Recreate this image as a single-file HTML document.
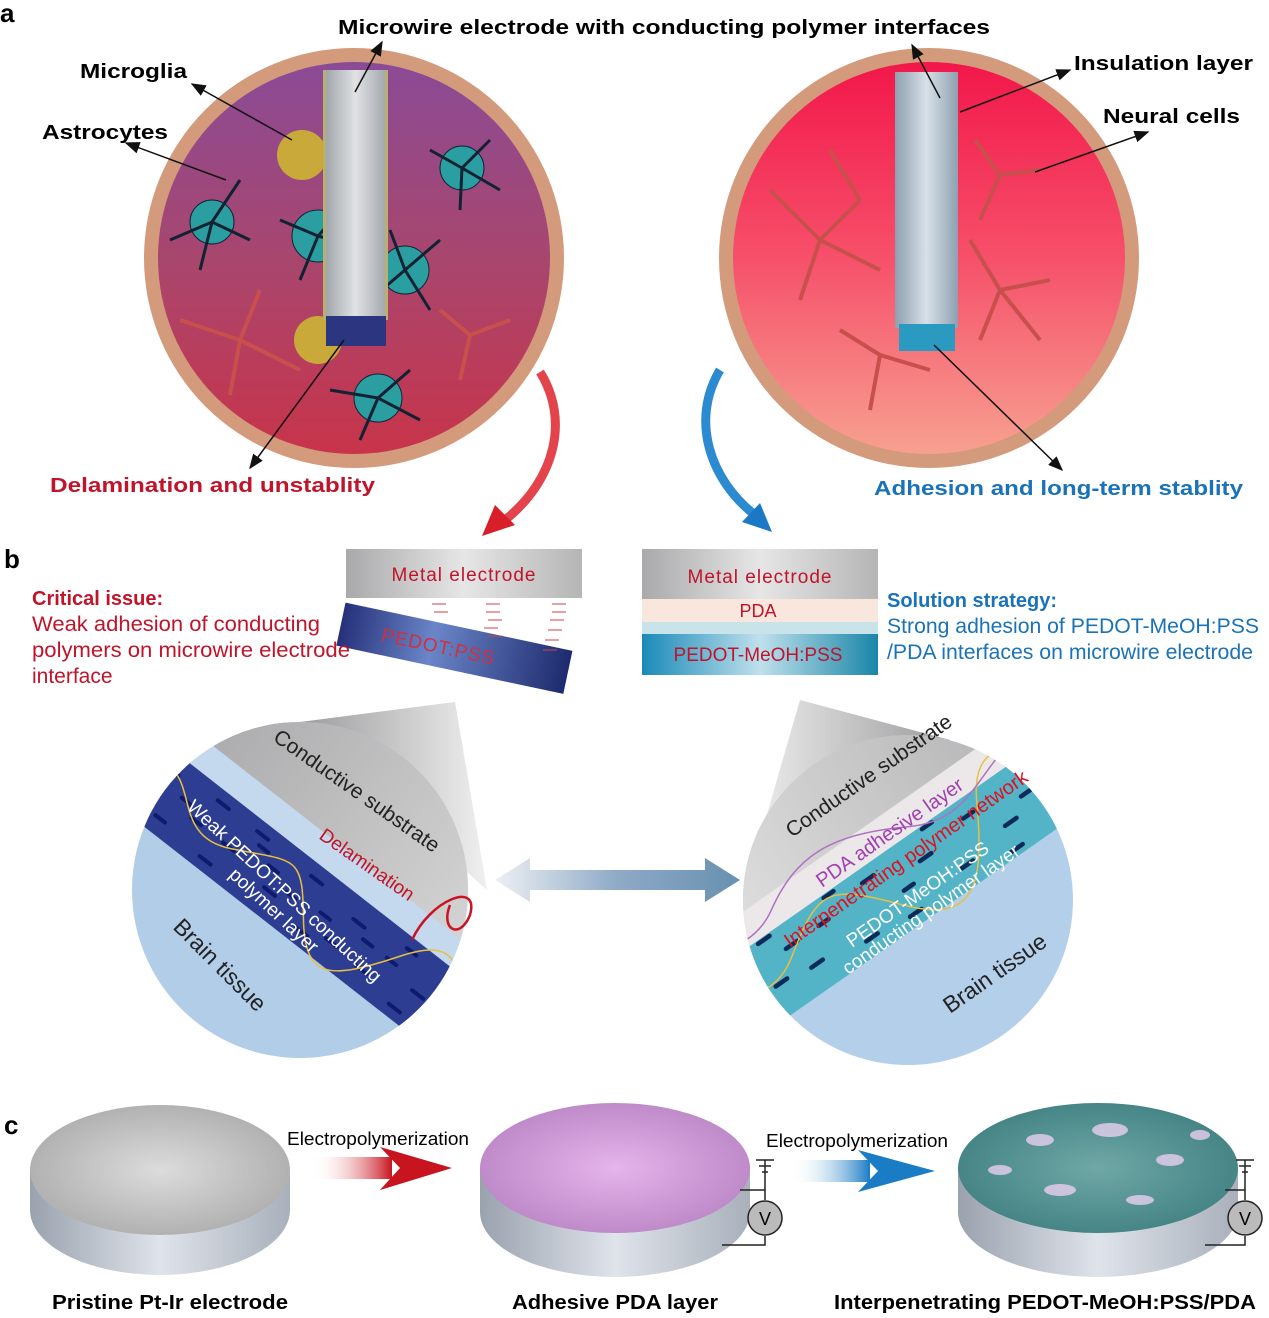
<!DOCTYPE html>
<html><head><meta charset="utf-8"><style>
body{margin:0;background:#fff;}
svg{display:block;font-family:"Liberation Sans",Arial,sans-serif;}
.b{font-weight:bold;}
</style></head><body>
<svg width="1269" height="1318" viewBox="0 0 1269 1318" xmlns="http://www.w3.org/2000/svg">
<defs>
<linearGradient id="lp" x1="0" y1="0" x2="0" y2="1"><stop offset="0" stop-color="#8a4b96"/><stop offset="0.5" stop-color="#a8466e"/><stop offset="1" stop-color="#c8344a"/></linearGradient>
<linearGradient id="rp" x1="0" y1="0" x2="0" y2="1"><stop offset="0" stop-color="#f2174a"/><stop offset="0.5" stop-color="#f6506a"/><stop offset="1" stop-color="#f7a090"/></linearGradient>
<linearGradient id="el" x1="0" y1="0" x2="1" y2="0"><stop offset="0" stop-color="#9aa0a6"/><stop offset="0.5" stop-color="#e0e2e4"/><stop offset="1" stop-color="#9ea4aa"/></linearGradient>
<linearGradient id="eb" x1="0" y1="0" x2="1" y2="0"><stop offset="0" stop-color="#8ea0b0"/><stop offset="0.5" stop-color="#d8e0e8"/><stop offset="1" stop-color="#8ea0b0"/></linearGradient>
<linearGradient id="met" x1="0" y1="0" x2="1" y2="0"><stop offset="0" stop-color="#a9a9ab"/><stop offset="0.5" stop-color="#e6e6e6"/><stop offset="1" stop-color="#b5b5b6"/></linearGradient>
<linearGradient id="ped" x1="0" y1="0" x2="1" y2="0"><stop offset="0" stop-color="#26307a"/><stop offset="0.4" stop-color="#6a86c8"/><stop offset="1" stop-color="#1e2a6e"/></linearGradient>
<linearGradient id="mo" x1="0" y1="0" x2="1" y2="0"><stop offset="0" stop-color="#1a8ab8"/><stop offset="0.5" stop-color="#bfe0ec"/><stop offset="1" stop-color="#1a86a8"/></linearGradient>
<linearGradient id="cone" x1="0" y1="0" x2="1" y2="0"><stop offset="0" stop-color="#9c9c9e"/><stop offset="1" stop-color="#f0f0f0"/></linearGradient>
<linearGradient id="cone2" x1="1" y1="0" x2="0" y2="0"><stop offset="0" stop-color="#9c9c9e"/><stop offset="1" stop-color="#f0f0f0"/></linearGradient>
<linearGradient id="da" x1="0" y1="0" x2="1" y2="0"><stop offset="0" stop-color="#eef0f4"/><stop offset="0.5" stop-color="#8eaac6"/><stop offset="1" stop-color="#6890b0"/></linearGradient>
<linearGradient id="ra" x1="0" y1="0" x2="1" y2="0"><stop offset="0" stop-color="#fff" stop-opacity="0"/><stop offset="1" stop-color="#c8141e"/></linearGradient>
<linearGradient id="ba" x1="0" y1="0" x2="1" y2="0"><stop offset="0" stop-color="#fff" stop-opacity="0"/><stop offset="1" stop-color="#1a7cc4"/></linearGradient>
<linearGradient id="side" x1="0" y1="0" x2="1" y2="0"><stop offset="0" stop-color="#9aa2ae"/><stop offset="0.5" stop-color="#dfe3ea"/><stop offset="1" stop-color="#a9b0bb"/></linearGradient>
<radialGradient id="top1" cx="0.5" cy="0.5" r="0.6"><stop offset="0" stop-color="#dcdcdc"/><stop offset="1" stop-color="#a9a9a9"/></radialGradient>
<radialGradient id="top2" cx="0.5" cy="0.5" r="0.6"><stop offset="0" stop-color="#e6b4ec"/><stop offset="1" stop-color="#b782c2"/></radialGradient>
<radialGradient id="top3" cx="0.5" cy="0.5" r="0.6"><stop offset="0" stop-color="#6fa8a6"/><stop offset="1" stop-color="#3e7e80"/></radialGradient>
<clipPath id="cl"><circle cx="300" cy="890" r="168"/></clipPath>
<clipPath id="cr"><circle cx="908" cy="900" r="165"/></clipPath>
<marker id="ah" markerWidth="10" markerHeight="8" refX="9" refY="4" orient="auto"><path d="M0,0 L10,4 L0,8 z" fill="#111"/></marker>
</defs>

<text x="0" y="22" font-size="26" class="b">a</text>
<circle cx="354" cy="258" r="210" fill="#d49a7c"/>
<circle cx="354" cy="258" r="196" fill="url(#lp)"/>
<circle cx="929" cy="258" r="210" fill="#d49a7c"/>
<circle cx="929" cy="258" r="196" fill="url(#rp)"/>

<g fill="#2a9ea0" stroke="#123" stroke-width="1">
<circle cx="212" cy="222" r="22"/><circle cx="318" cy="236" r="26"/><circle cx="405" cy="270" r="24"/><circle cx="462" cy="168" r="22"/><circle cx="378" cy="398" r="24"/>
</g>
<g stroke="#123" stroke-width="3">
<path d="M212 222 L170 240 M212 222 L240 180 M212 222 L250 240 M212 222 L200 270"/>
<path d="M318 236 L280 220 M318 236 L350 200 M318 236 L370 250 M318 236 L300 280"/>
<path d="M405 270 L440 240 M405 270 L430 310 M405 270 L370 300 M405 270 L390 230"/>
<path d="M462 168 L490 140 M462 168 L500 190 M462 168 L430 150 M462 168 L460 210"/>
<path d="M378 398 L330 390 M378 398 L410 370 M378 398 L420 420 M378 398 L360 440"/>
</g>
<circle cx="302" cy="155" r="25" fill="#c9a93a"/>
<circle cx="318" cy="340" r="24" fill="#c9a93a"/>
<g stroke="#c8504c" stroke-width="4" fill="none">
<path d="M240 340 L180 320 M240 340 L260 290 M240 340 L300 370 M240 340 L230 395"/>
<path d="M470 335 L440 310 M470 335 L510 320 M470 335 L460 380"/>
<path d="M820 240 L770 190 M820 240 L860 200 M820 240 L800 300 M820 240 L880 270 M860 200 L830 150"/>
<path d="M1000 290 L970 240 M1000 290 L1050 280 M1000 290 L980 340 M1000 290 L1040 340"/>
<path d="M880 355 L840 330 M880 355 L870 410 M880 355 L930 370"/>
<path d="M1000 175 L975 140 M1000 175 L1040 170 M1000 175 L980 220"/>
</g>
<rect x="323" y="70" width="65" height="250" fill="url(#el)"/>
<rect x="323" y="70" width="3" height="250" fill="#b8b070"/><rect x="385" y="70" width="3" height="250" fill="#b8b070"/>
<rect x="326" y="316" width="60" height="30" fill="#2b3580"/>
<rect x="895" y="72" width="63" height="256" fill="url(#eb)"/>
<rect x="899" y="324" width="56" height="27" fill="#2a9ac0"/>

<g stroke="#111" stroke-width="1.5" fill="none" marker-end="url(#ah)">
<line x1="355" y1="92" x2="382" y2="42"/>
<line x1="940" y1="98" x2="912" y2="45"/>
<line x1="292" y1="140" x2="192" y2="84"/>
<line x1="226" y1="180" x2="126" y2="143"/>
<line x1="960" y1="112" x2="1070" y2="70"/>
<line x1="1035" y1="172" x2="1148" y2="132"/>
<line x1="344" y1="340" x2="250" y2="468"/>
<line x1="934" y1="345" x2="1062" y2="470"/>
</g>
<text x="338" y="34" font-size="20" class="b" textLength="652" lengthAdjust="spacingAndGlyphs">Microwire electrode with conducting polymer interfaces</text>
<text x="80" y="78" font-size="20" class="b" textLength="107" lengthAdjust="spacingAndGlyphs">Microglia</text>
<text x="42" y="139" font-size="20" class="b" textLength="126" lengthAdjust="spacingAndGlyphs">Astrocytes</text>
<text x="1074" y="70" font-size="20" class="b" textLength="179" lengthAdjust="spacingAndGlyphs">Insulation layer</text>
<text x="1103" y="123" font-size="20" class="b" textLength="137" lengthAdjust="spacingAndGlyphs">Neural cells</text>
<text x="50" y="492" font-size="20" class="b" fill="#c0142a" textLength="325" lengthAdjust="spacingAndGlyphs">Delamination and unstablity</text>
<text x="874" y="495" font-size="20" class="b" fill="#1a72b8" textLength="369" lengthAdjust="spacingAndGlyphs">Adhesion and long-term stablity</text>

<path d="M540 372 C570 420 555 480 505 520" stroke="#e03038" stroke-width="9" fill="none" opacity="0.9"/>
<path d="M482 536 L495 505 L515 525 z" fill="#d81e28"/>
<path d="M720 370 C690 420 710 480 755 515" stroke="#2b8ad0" stroke-width="9" fill="none"/>
<path d="M772 532 L742 522 L760 503 z" fill="#1a78c4"/>

<text x="4" y="568" font-size="26" class="b">b</text>
<rect x="346" y="549" width="236" height="49" fill="url(#met)"/>
<text x="464" y="581" font-size="19" fill="#c0142a" text-anchor="middle" letter-spacing="1">Metal electrode</text>
<g transform="rotate(12 453 650)"><rect x="338" y="626" width="232" height="44" fill="url(#ped)"/>
<text x="438" y="656" font-size="19" fill="#d03040" text-anchor="middle" letter-spacing="1">PEDOT:PSS</text></g>
<g stroke="#d04050" stroke-width="1"><path d="M432 604h14M434 612h14M486 604h14M486 612h14M488 620h14M484 628h14M488 636h14M552 604h14M552 612h14M550 620h14M548 630h14M545 640h14M543 650h14"/></g>
<text x="32" y="605" font-size="20" class="b" fill="#c0142a">Critical issue:</text>
<text x="32" y="631" font-size="21" fill="#c0142a" textLength="288" lengthAdjust="spacingAndGlyphs">Weak adhesion of conducting</text>
<text x="32" y="657" font-size="21" fill="#c0142a" textLength="318" lengthAdjust="spacingAndGlyphs">polymers on microwire electrode</text>
<text x="32" y="683" font-size="21" fill="#c0142a">interface</text>

<rect x="642" y="549" width="236" height="50" fill="url(#met)"/>
<text x="760" y="583" font-size="19" fill="#c0142a" text-anchor="middle" letter-spacing="1">Metal electrode</text>
<rect x="642" y="599" width="236" height="23" fill="#f9e6dc"/>
<text x="758" y="617" font-size="18" fill="#c0142a" text-anchor="middle">PDA</text>
<rect x="642" y="622" width="236" height="12" fill="#c8e4ea"/>
<rect x="642" y="634" width="236" height="41" fill="url(#mo)"/>
<text x="758" y="661" font-size="19" fill="#c0142a" text-anchor="middle">PEDOT-MeOH:PSS</text>
<text x="887" y="607" font-size="20" class="b" fill="#1a72b8">Solution strategy:</text>
<text x="887" y="633" font-size="21" fill="#1a72b8" textLength="372" lengthAdjust="spacingAndGlyphs">Strong adhesion of PEDOT-MeOH:PSS</text>
<text x="887" y="659" font-size="21" fill="#1a72b8" textLength="366" lengthAdjust="spacingAndGlyphs">/PDA interfaces on microwire electrode</text>

<path d="M455 702 L487 890 L300 722 Z" fill="url(#cone)"/>
<path d="M800 700 L745 890 L950 740 Z" fill="url(#cone2)"/>

<g clip-path="url(#cl)">
<rect x="100" y="700" width="420" height="380" fill="#b2cde8"/>
<g transform="rotate(38 300 890)">
<rect x="0" y="600" width="700" height="230" fill="url(#cone)"/>
<rect x="0" y="830" width="700" height="28" fill="#c4d8ee"/>
<rect x="0" y="858" width="700" height="78" fill="#2c3d92"/>
<g stroke="#0e1a6e" stroke-width="4" stroke-linecap="round">
<path d="M120 875h14M150 890h12M180 870h14M210 900h14M240 880h12M270 910h14M300 872h14M330 895h12M360 880h14M390 915h14M420 870h12M450 900h14M480 885h14M140 920h12M200 925h14M260 890h12M320 922h14M380 890h12M440 925h14M500 910h12M170 900h12M230 870h14M290 900h12M350 912h14M410 890h12M470 870h14"/>
</g>
<path d="M100 880 C150 850 160 930 220 900 S280 860 320 910 S380 940 420 880 S480 860 520 920" stroke="#e8c040" stroke-width="1.5" fill="none"/>
</g>
</g>
<text font-size="21" fill="#222" transform="translate(272 740) rotate(35)">Conductive substrate</text>
<text font-size="19" fill="#c0142a" transform="translate(318 838) rotate(35)">Delamination</text>
<text font-size="19" fill="#fff" transform="translate(186 808) rotate(43)">Weak PEDOT:PSS conducting</text>
<text font-size="19" fill="#fff" transform="translate(228 876) rotate(43)">polymer layer</text>
<text font-size="23" fill="#222" transform="translate(172 928) rotate(45)">Brain tissue</text>
<path d="M412 940 C430 900 480 880 470 915 C460 940 440 930 450 905" stroke="#c81424" stroke-width="2.5" fill="none"/>

<path d="M495 880 L530 858 L530 870 L705 870 L705 858 L740 880 L705 902 L705 890 L530 890 L530 902 Z" fill="url(#da)"/>

<g clip-path="url(#cr)">
<rect x="730" y="720" width="360" height="360" fill="#b4cfea"/>
<g transform="rotate(-35 908 900)">
<rect x="600" y="600" width="700" height="215" fill="url(#cone2)"/>
<rect x="600" y="815" width="700" height="32" fill="#ece8ea"/>
<rect x="600" y="847" width="700" height="80" fill="#52b4c6"/>
<g stroke="#0e2a5a" stroke-width="4.5" stroke-linecap="round">
<path d="M700 860h14M730 880h12M760 850h14M790 900h14M820 870h12M850 910h14M880 860h14M910 890h12M940 875h14M970 905h14M1000 865h12M1030 895h14M1060 880h14M1090 910h12M720 910h12M780 870h14M840 850h12M900 915h14M960 850h12M1020 920h14M1080 860h12M750 895h14"/>
</g>
<path d="M650 880 C700 840 720 920 780 880 S850 840 900 900 S980 930 1020 860 S1100 850 1150 900" stroke="#e8c040" stroke-width="1.5" fill="none"/>
<path d="M650 835 C700 810 740 860 790 830 S880 800 950 840 S1050 810 1150 830" stroke="#b070c0" stroke-width="1.5" fill="none"/>
</g>
</g>
<text font-size="21" fill="#222" transform="translate(792 838) rotate(-35)">Conductive substrate</text>
<text font-size="20" fill="#a040b0" transform="translate(822 888) rotate(-35)">PDA adhesive layer</text>
<text font-size="20" fill="#e01020" transform="translate(790 948) rotate(-35)">Interpenetrating polymer network</text>
<text font-size="19" fill="#fff" transform="translate(852 948) rotate(-35)">PEDOT-MeOH:PSS</text>
<text font-size="19" fill="#fff" transform="translate(848 975) rotate(-35)">conducting polymer layer</text>
<text font-size="23" fill="#222" transform="translate(950 1014) rotate(-35)">Brain tissue</text>

<text x="4" y="1134" font-size="26" class="b">c</text>
<path d="M30 1170 L30 1210 A130 65 0 0 0 290 1210 L290 1170 Z" fill="url(#side)"/>
<ellipse cx="160" cy="1170" rx="130" ry="65" fill="url(#top1)"/>
<path d="M480 1170 L480 1212 A135 65 0 0 0 750 1212 L750 1170 Z" fill="url(#side)"/>
<ellipse cx="615" cy="1168" rx="135" ry="65" fill="url(#top2)"/>
<path d="M958 1170 L958 1212 A140 65 0 0 0 1238 1212 L1238 1170 Z" fill="url(#side)"/>
<ellipse cx="1098" cy="1168" rx="140" ry="65" fill="url(#top3)"/>
<g fill="#e8d0f0" opacity="0.8"><ellipse cx="1040" cy="1140" rx="14" ry="6"/><ellipse cx="1110" cy="1130" rx="18" ry="7"/><ellipse cx="1170" cy="1160" rx="14" ry="6"/><ellipse cx="1060" cy="1190" rx="16" ry="6"/><ellipse cx="1140" cy="1200" rx="14" ry="5"/><ellipse cx="1000" cy="1170" rx="12" ry="5"/><ellipse cx="1200" cy="1135" rx="10" ry="5"/></g>
<g stroke="#222" stroke-width="1.5" fill="none">
<path d="M740 1190 L765 1190 L765 1200 M765 1236 L765 1245 L722 1245 M765 1190 L765 1160 M756 1160h18M759 1166h12M762 1172h6"/>
<circle cx="765" cy="1218" r="17" fill="#bbb"/>
<path d="M1225 1190 L1245 1190 L1245 1200 M1245 1236 L1245 1245 L1205 1245 M1245 1190 L1245 1160 M1236 1160h18M1239 1166h12M1242 1172h6"/>
<circle cx="1245" cy="1218" r="17" fill="#bbb"/>
</g>
<text x="765" y="1225" font-size="18" text-anchor="middle">V</text>
<text x="1245" y="1225" font-size="18" text-anchor="middle">V</text>

<text x="287" y="1145" font-size="18" textLength="182" lengthAdjust="spacingAndGlyphs">Electropolymerization</text>
<rect x="312" y="1157" width="80" height="22" fill="url(#ra)"/>
<path d="M380 1147 L452 1168 L380 1190 L400 1168 Z" fill="#c8141e"/>
<text x="766" y="1147" font-size="18" textLength="182" lengthAdjust="spacingAndGlyphs">Electropolymerization</text>
<rect x="790" y="1160" width="80" height="22" fill="url(#ba)"/>
<path d="M858 1150 L935 1171 L858 1192 L878 1171 Z" fill="#1a7cc4"/>

<text x="52" y="1309" font-size="20" class="b" textLength="236" lengthAdjust="spacingAndGlyphs">Pristine Pt-Ir electrode</text>
<text x="512" y="1309" font-size="20" class="b" textLength="206" lengthAdjust="spacingAndGlyphs">Adhesive PDA layer</text>
<text x="834" y="1309" font-size="20" class="b" textLength="422" lengthAdjust="spacingAndGlyphs">Interpenetrating PEDOT-MeOH:PSS/PDA</text>
</svg>
</body></html>
